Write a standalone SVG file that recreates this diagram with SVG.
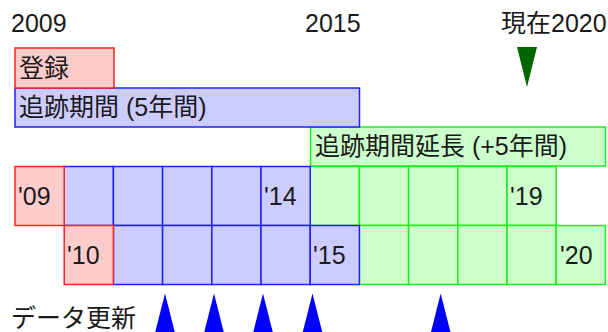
<svg xmlns="http://www.w3.org/2000/svg" width="608" height="332" viewBox="0 0 608 332">
<style>
text{font-family:"Liberation Sans","Noto Sans CJK JP",sans-serif;font-size:25px;fill:#1a1a1a}
.r{fill:#ffcccc;stroke:#ff2020;stroke-width:1.5}
.b{fill:#ccccff;stroke:#2020ff;stroke-width:1.5}
.g{fill:#ccffcc;stroke:#20ee20;stroke-width:1.5}
.mb{fill:#0000ff}
.mg{fill:#006600}
</style>
<rect width="608" height="332" fill="#ffffff"/>
<g id="years">
<text x="11" y="32">2009</text>
<text x="305" y="32">2015</text>
<text x="501" y="32">現在2020</text>
</g>
<g id="now-marker"><polygon class="mg" points="517,47 537,47 527,87"/></g>
<g id="bar-extension"><rect class="g" x="310.5" y="127" width="295" height="39"/><text x="315" y="155">追跡期間延長 (+5年間)</text></g>
<g id="bar-followup"><rect class="b" x="15" y="88" width="344.5" height="39"/><text x="19" y="116">追跡期間 (5年間)</text></g>
<g id="bar-register"><rect class="r" x="15" y="48" width="99" height="40"/><text x="19" y="77">登録</text></g>
<g id="cells-green">
<rect class="g" x="310.2" y="166.5" width="49.2" height="59"/>
<rect class="g" x="359.4" y="166.5" width="49.2" height="59"/>
<rect class="g" x="408.6" y="166.5" width="49.2" height="59"/>
<rect class="g" x="457.8" y="166.5" width="49.2" height="59"/>
<rect class="g" x="507" y="166.5" width="49.2" height="59"/>
<rect class="g" x="359.4" y="225.5" width="49.2" height="59"/>
<rect class="g" x="408.6" y="225.5" width="49.2" height="59"/>
<rect class="g" x="457.8" y="225.5" width="49.2" height="59"/>
<rect class="g" x="507" y="225.5" width="49.2" height="59"/>
<rect class="g" x="556.2" y="225.5" width="49.2" height="59"/>
</g>
<g id="cells-blue">
<rect class="b" x="64.2" y="166.5" width="49.2" height="59"/>
<rect class="b" x="113.4" y="166.5" width="49.2" height="59"/>
<rect class="b" x="162.6" y="166.5" width="49.2" height="59"/>
<rect class="b" x="211.8" y="166.5" width="49.2" height="59"/>
<rect class="b" x="261" y="166.5" width="49.2" height="59"/>
<rect class="b" x="113.4" y="225.5" width="49.2" height="59"/>
<rect class="b" x="162.6" y="225.5" width="49.2" height="59"/>
<rect class="b" x="211.8" y="225.5" width="49.2" height="59"/>
<rect class="b" x="261" y="225.5" width="49.2" height="59"/>
<rect class="b" x="310.2" y="225.5" width="49.2" height="59"/>
</g>
<g id="cells-red">
<rect class="r" x="15" y="166.5" width="49.2" height="59"/>
<rect class="r" x="64.2" y="225.5" width="49.2" height="59"/>
</g>
<g id="cell-labels">
<text x="18" y="205">'09</text>
<text x="264" y="205">'14</text>
<text x="510" y="205">'19</text>
<text x="67" y="264">'10</text>
<text x="313" y="264">'15</text>
<text x="560" y="264">'20</text>
</g>
<g id="updates">
<text x="11" y="327">データ更新</text>
<polygon class="mb" points="165,293.5 155,333 175,333"/>
<polygon class="mb" points="214,293.5 204,333 224,333"/>
<polygon class="mb" points="263,293.5 253,333 273,333"/>
<polygon class="mb" points="312.5,293.5 302.5,333 322.5,333"/>
<polygon class="mb" points="440.7,293.5 430.7,333 450.7,333"/>
</g>
</svg>
